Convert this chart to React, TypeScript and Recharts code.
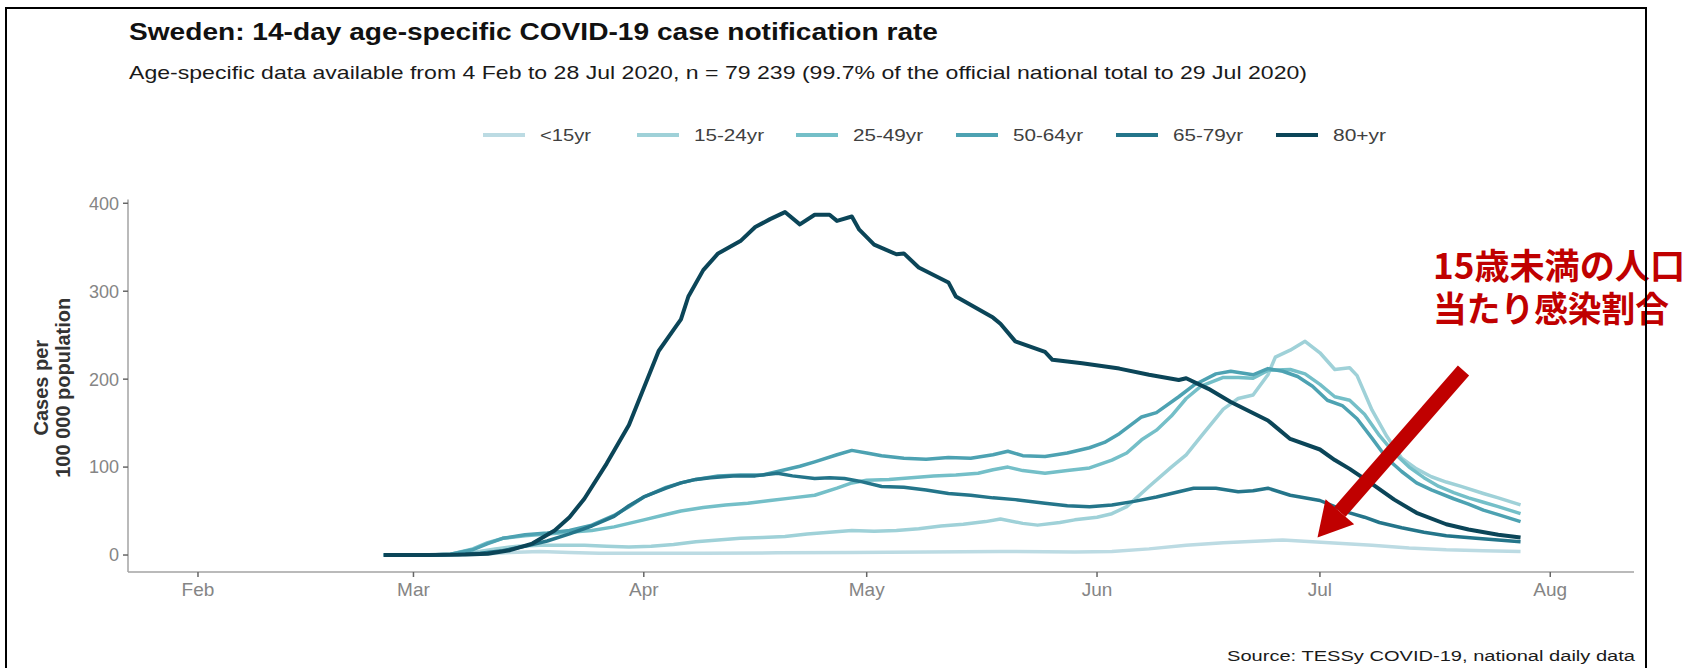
import React from 'react';
import { LineChart, Line, XAxis, YAxis } from 'recharts';

// ---------- data ----------
const MONTH_TICKS: string[] = ['02-01', '03-01', '04-01', '05-01', '06-01', '07-01', '08-01'];
const MONTH_LABELS: string[] = ['Feb', 'Mar', 'Apr', 'May', 'Jun', 'Jul', 'Aug'];
const Y_TICKS: number[] = [0, 100, 200, 300, 400];
const SERIES_NAMES: string[] = ['<15yr', '15-24yr', '25-49yr', '50-64yr', '65-79yr', '80+yr'];

const ageUnder15: [string, number][] = [
  ['02-26', 0], ['03-06', 0], ['03-10', 1], ['03-14', 3], ['03-18', 4], ['03-22', 3], ['03-26', 2],
  ['03-30', 2], ['04-09', 2], ['04-19', 2.5], ['04-29', 3], ['05-09', 3.5], ['05-19', 4], ['05-29', 3.5],
  ['06-03', 4], ['06-08', 7], ['06-13', 11], ['06-18', 14], ['06-23', 16], ['06-26', 17], ['06-30', 15],
  ['07-04', 13], ['07-08', 11], ['07-13', 8], ['07-18', 6], ['07-23', 5], ['07-28', 4],
];

const age15to24: [string, number][] = [
  ['02-26', 0], ['03-03', 0], ['03-06', 0.5], ['03-09', 3], ['03-12', 7], ['03-15', 10], ['03-18', 11],
  ['03-21', 11], ['03-24', 11], ['03-27', 10], ['03-30', 9], ['04-02', 10], ['04-05', 12], ['04-08', 15],
  ['04-11', 17], ['04-14', 19], ['04-17', 20], ['04-20', 21], ['04-23', 24], ['04-26', 26], ['04-29', 28],
  ['05-02', 27], ['05-05', 28], ['05-08', 30], ['05-11', 33], ['05-14', 35], ['05-17', 38], ['05-19', 41],
  ['05-22', 36], ['05-24', 34], ['05-27', 37], ['05-29', 40], ['06-01', 43], ['06-03', 47], ['06-05', 55],
  ['06-08', 78], ['06-11', 100], ['06-13', 114], ['06-15', 135], ['06-18', 166], ['06-20', 178],
  ['06-22', 182], ['06-24', 205], ['06-25', 225], ['06-27', 233], ['06-29', 243], ['07-01', 230],
  ['07-03', 211], ['07-05', 213], ['07-06', 204], ['07-08', 165], ['07-10', 135], ['07-12', 110],
  ['07-14', 98], ['07-16', 89], ['07-18', 83], ['07-20', 78], ['07-23', 70], ['07-25', 65], ['07-28', 57],
];

const age25to49: [string, number][] = [
  ['02-26', 0], ['03-03', 0], ['03-06', 1], ['03-09', 7], ['03-11', 14], ['03-13', 19], ['03-16', 22],
  ['03-19', 24], ['03-22', 26], ['03-25', 28], ['03-28', 32], ['03-30', 36], ['04-01', 40], ['04-04', 46],
  ['04-06', 50], ['04-09', 54], ['04-12', 57], ['04-15', 59], ['04-18', 62], ['04-21', 65], ['04-24', 68],
  ['04-27', 76], ['04-29', 82], ['05-01', 85], ['05-04', 86], ['05-07', 88], ['05-10', 90], ['05-13', 91],
  ['05-16', 93], ['05-18', 97], ['05-20', 100], ['05-22', 96], ['05-25', 93], ['05-28', 96], ['05-31', 99],
  ['06-03', 108], ['06-05', 116], ['06-07', 131], ['06-09', 142], ['06-11', 158], ['06-13', 178],
  ['06-15', 192], ['06-18', 202], ['06-20', 202], ['06-22', 201], ['06-24', 210], ['06-27', 211],
  ['06-29', 206], ['07-01', 194], ['07-03', 180], ['07-05', 176], ['07-07', 160], ['07-09', 136],
  ['07-11', 116], ['07-13', 100], ['07-15', 88], ['07-17', 78], ['07-19', 71], ['07-21', 65], ['07-23', 60],
  ['07-25', 55], ['07-28', 47],
];

const age50to64: [string, number][] = [
  ['02-26', 0], ['03-03', 0], ['03-06', 1], ['03-09', 6], ['03-11', 13], ['03-13', 19], ['03-16', 23],
  ['03-19', 25], ['03-22', 28], ['03-25', 34], ['03-28', 45], ['03-30', 55], ['04-01', 66], ['04-04', 77],
  ['04-06', 82], ['04-08', 86], ['04-11', 90], ['04-14', 91], ['04-17', 91], ['04-19', 95], ['04-22', 101],
  ['04-24', 106], ['04-27', 114], ['04-29', 119], ['05-01', 116], ['05-03', 113], ['05-06', 110],
  ['05-09', 109], ['05-12', 111], ['05-15', 110], ['05-18', 114], ['05-20', 118], ['05-22', 113],
  ['05-25', 112], ['05-28', 116], ['05-31', 122], ['06-02', 128], ['06-04', 138], ['06-07', 157],
  ['06-09', 162], ['06-12', 180], ['06-14', 193], ['06-17', 206], ['06-19', 209], ['06-22', 205],
  ['06-24', 212], ['06-26', 209], ['06-28', 203], ['06-30', 192], ['07-02', 176], ['07-04', 170],
  ['07-06', 155], ['07-08', 133], ['07-10', 110], ['07-12', 95], ['07-14', 82], ['07-16', 74],
  ['07-19', 64], ['07-21', 58], ['07-23', 51], ['07-25', 46], ['07-28', 38],
];

const age65to79: [string, number][] = [
  ['02-26', 0], ['03-03', 0], ['03-07', 0.5], ['03-10', 2], ['03-13', 5], ['03-16', 10], ['03-19', 16],
  ['03-22', 24], ['03-25', 33], ['03-28', 44], ['03-30', 56], ['04-01', 66], ['04-04', 76], ['04-06', 82],
  ['04-08', 86], ['04-10', 88], ['04-13', 90], ['04-16', 90], ['04-19', 93], ['04-21', 90], ['04-24', 87],
  ['04-26', 88], ['04-28', 87], ['04-30', 84], ['05-03', 78], ['05-06', 77], ['05-09', 74], ['05-12', 70],
  ['05-15', 68], ['05-18', 65], ['05-21', 63], ['05-25', 59], ['05-28', 56], ['05-31', 55], ['06-03', 57],
  ['06-06', 61], ['06-09', 66], ['06-12', 72], ['06-14', 76], ['06-17', 76], ['06-20', 72], ['06-22', 73],
  ['06-24', 76], ['06-27', 68], ['07-01', 62], ['07-03', 55], ['07-05', 48], ['07-07', 43], ['07-09', 37],
  ['07-12', 31], ['07-15', 26], ['07-18', 22], ['07-22', 19], ['07-25', 17], ['07-28', 15],
];

const age80plus: [string, number][] = [
  ['02-26', 0], ['03-03', 0], ['03-08', 0.5], ['03-11', 1.5], ['03-14', 5.5], ['03-17', 13], ['03-20', 28],
  ['03-22', 43], ['03-24', 64], ['03-27', 104], ['03-30', 148], ['04-01', 190], ['04-03', 232],
  ['04-05', 256], ['04-06', 268], ['04-07', 294], ['04-09', 324], ['04-11', 343], ['04-14', 357],
  ['04-16', 373], ['04-18', 382], ['04-20', 390], ['04-22', 376], ['04-24', 387], ['04-26', 387],
  ['04-27', 380], ['04-29', 385], ['04-30', 370], ['05-02', 353], ['05-05', 342], ['05-06', 343],
  ['05-08', 327], ['05-12', 310], ['05-13', 294], ['05-18', 270], ['05-19', 263], ['05-21', 243],
  ['05-25', 231], ['05-26', 222], ['05-30', 218], ['06-04', 212], ['06-08', 205], ['06-12', 199],
  ['06-13', 201], ['06-16', 189], ['06-19', 174], ['06-24', 153], ['06-25', 146], ['06-27', 132],
  ['07-01', 120], ['07-03', 108], ['07-05', 98], ['07-08', 81], ['07-11', 63], ['07-14', 48],
  ['07-18', 35], ['07-21', 29], ['07-25', 23], ['07-28', 20],
];

// ---------- styling ----------
const SERIES_COLORS: string[] = ['#bcdbe3', '#9fd1d8', '#74bfc8', '#4da2b2', '#24758a', '#0b4558'];
const SERIES_DATA = [ageUnder15, age15to24, age25to49, age50to64, age65to79, age80plus];

const W = 1692;
const H = 668;
const PLOT_LEFT = 128;
const PLOT_RIGHT = 1634;
const PLOT_TOP = 199.5;
const PLOT_BOTTOM = 572;
const X_MIN = 22.58;
const X_MAX = 225.27;
const Y_MIN = -19.3;
const Y_MAX = 404.3;
const FONT = '"Liberation Sans", Arial, Helvetica, sans-serif';

function dayOfYear(md: string): number {
  const [m, d] = md.split('-').map(Number);
  return (Date.UTC(2020, m - 1, d) - Date.UTC(2020, 0, 1)) / 86400000 + 1;
}

const xPx = (day: number) => PLOT_LEFT + ((day - X_MIN) / (X_MAX - X_MIN)) * (PLOT_RIGHT - PLOT_LEFT);
const yPx = (v: number) => PLOT_BOTTOM - ((v - Y_MIN) / (Y_MAX - Y_MIN)) * (PLOT_BOTTOM - PLOT_TOP);

const monthTickDays = MONTH_TICKS.map(dayOfYear);
const series = SERIES_DATA.map((arr) => arr.map(([d, v]) => ({ x: dayOfYear(d), v })));

// legend layout
const LEGEND_LINE_X: number[] = [483, 637, 796, 956, 1116, 1276];
const LEGEND_TEXT_W: number[] = [51, 70, 70, 70, 70, 53];

function Legend() {
  const y = 135;
  return (
    <g>
      {SERIES_NAMES.map((name, i) => (
        <g key={name}>
          <line x1={LEGEND_LINE_X[i]} x2={LEGEND_LINE_X[i] + 42} y1={y} y2={y}
            stroke={SERIES_COLORS[i]} strokeWidth={4} />
          <text x={LEGEND_LINE_X[i] + 57} y={y + 6} fontSize={17} fill="#404040" fontFamily={FONT}
            textLength={LEGEND_TEXT_W[i]} lengthAdjust="spacingAndGlyphs">{name}</text>
        </g>
      ))}
    </g>
  );
}

function Overlay() {
  // annotation arrow pointing to the <15yr peak (end of June)
  const tipX = xPx(dayOfYear('06-30')) + 5;
  const tipY = yPx(20);
  const tailX = tipX + 146;
  const tailY = tipY - 167;
  const dx = tipX - tailX;
  const dy = tipY - tailY;
  const len = Math.sqrt(dx * dx + dy * dy);
  const ux = dx / len;
  const uy = dy / len;
  const headLen = 34;
  const headHalf = 19;
  const bx = tipX - ux * headLen;
  const by = tipY - uy * headLen;
  const px = -uy;
  const py = ux;
  const midY = (PLOT_TOP + PLOT_BOTTOM) / 2 + 2;
  return (
    <svg width={W} height={H} style={{ position: 'absolute', left: 0, top: 0, pointerEvents: 'none' }}>
      <text x={129} y={40} fontSize={23} fontWeight="bold" fill="#111" fontFamily={FONT}
        textLength={809} lengthAdjust="spacingAndGlyphs">
        Sweden: 14-day age-specific COVID-19 case notification rate
      </text>
      <text x={129} y={79} fontSize={18.5} fill="#1a1a1a" fontFamily={FONT}
        textLength={1178} lengthAdjust="spacingAndGlyphs">
        Age-specific data available from 4 Feb to 28 Jul 2020, n = 79 239 (99.7% of the official national total to 29 Jul 2020)
      </text>
      <Legend />
      <g fontFamily={FONT} fontSize={20} fontWeight="bold" fill="#333" textAnchor="middle">
        <text transform={`translate(48, ${midY}) rotate(-90)`}>Cases per</text>
        <text transform={`translate(70, ${midY}) rotate(-90)`}>100 000 population</text>
      </g>
      <text x={1635} y={661} fontSize={15.5} fill="#1a1a1a" fontFamily={FONT} textAnchor="end"
        textLength={408} lengthAdjust="spacingAndGlyphs">
        Source: TESSy COVID-19, national daily data
      </text>
      <line x1={tailX} y1={tailY} x2={bx} y2={by} stroke="#c00000" strokeWidth={15} />
      <polygon
        points={`${tipX},${tipY} ${bx + px * headHalf},${by + py * headHalf} ${bx - px * headHalf},${by - py * headHalf}`}
        fill="#c00000"
      />
      <g fontFamily='"Noto Sans CJK JP", sans-serif' fontWeight="bold" fontSize={35} fill="#c00000">
        <text x={1433} y={279} textLength={252} lengthAdjust="spacingAndGlyphs">15歳未満の人口</text>
        <text x={1433} y={322} textLength={236} lengthAdjust="spacingAndGlyphs">当たり感染割合</text>
      </g>
      <rect x={6} y={8} width={1640} height={700} fill="none" stroke="#000" strokeWidth={2} />
    </svg>
  );
}

export default function App() {
  return (
    <div style={{ position: 'absolute', left: 0, top: 0, width: W, height: H, background: '#fff', overflow: 'hidden' }}>
      <LineChart
        width={W}
        height={H}
        margin={{ top: PLOT_TOP, right: W - PLOT_RIGHT, bottom: H - PLOT_BOTTOM - 40, left: PLOT_LEFT - 60 }}
      >
        <XAxis
          dataKey="x"
          type="number"
          domain={[X_MIN, X_MAX]}
          allowDataOverflow
          ticks={monthTickDays}
          tickFormatter={(d: number) => MONTH_LABELS[monthTickDays.indexOf(d)]}
          height={40}
          axisLine={{ stroke: '#a3a3a3', strokeWidth: 1.5 }}
          tickLine={{ stroke: '#666', strokeWidth: 1.5 }}
          tickSize={5}
          tickMargin={6}
          tick={{ fill: '#858585', fontSize: 19, fontFamily: FONT }}
        />
        <YAxis
          type="number"
          domain={[Y_MIN, Y_MAX]}
          allowDataOverflow
          ticks={Y_TICKS}
          width={60}
          axisLine={{ stroke: '#a3a3a3', strokeWidth: 1.5 }}
          tickLine={{ stroke: '#666', strokeWidth: 1.5 }}
          tickSize={5}
          tickMargin={4}
          tick={{ fill: '#858585', fontSize: 18, fontFamily: FONT }}
        />
        {series.map((data, i) => (
          <Line
            key={SERIES_NAMES[i]}
            data={data}
            dataKey="v"
            name={SERIES_NAMES[i]}
            type="linear"
            stroke={SERIES_COLORS[i]}
            strokeWidth={i === 5 ? 4 : 3.5}
            strokeLinejoin="round"
            dot={false}
            activeDot={false}
            isAnimationActive={false}
          />
        ))}
      </LineChart>
      <Overlay />
    </div>
  );
}
